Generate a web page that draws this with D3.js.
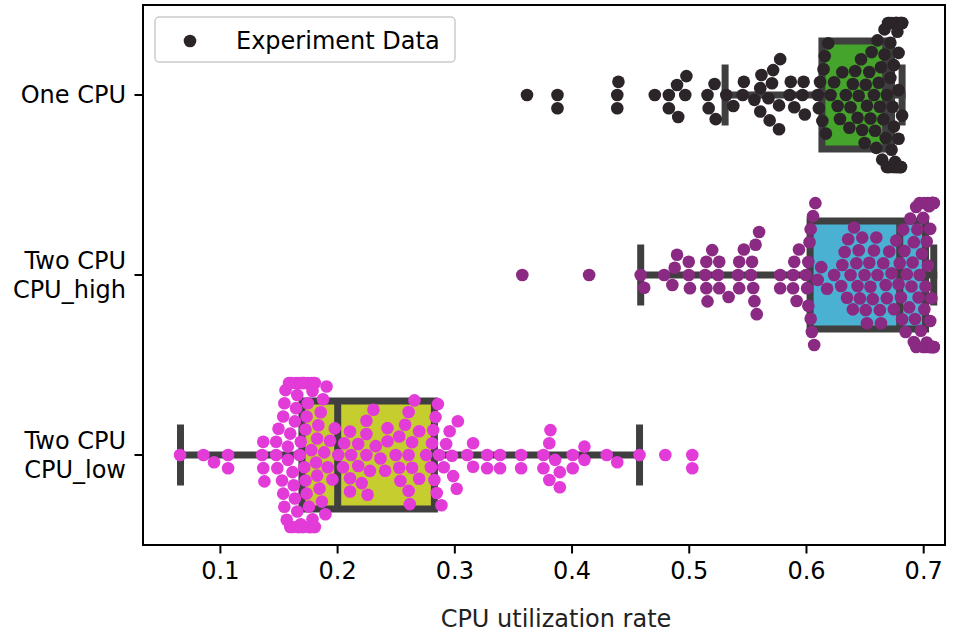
<!DOCTYPE html>
<html>
<head>
<meta charset="utf-8">
<script src="https://cdn.jsdelivr.net/npm/d3@7"></script>
<style>
  body { margin: 0; background: #fff; }
  text { font-family: "DejaVu Sans", sans-serif; }
</style>
</head>
<body>
<svg id="chart" width="960" height="637"></svg>
<script>
// categories, top to bottom
const categories = ['One CPU', 'Two CPU\nCPU_high', 'Two CPU\nCPU_low'];

// experiment data
const oneCpu = [
  0.362, 0.388, 0.388, 0.439, 0.439, 0.440, 0.471, 0.483, 0.483, 0.490,
  0.491, 0.497, 0.498, 0.516, 0.517, 0.522, 0.523, 0.532, 0.538, 0.546,
  0.547, 0.556, 0.561, 0.561, 0.562, 0.568, 0.569, 0.571, 0.572, 0.577,
  0.577, 0.578, 0.586, 0.587, 0.590, 0.597, 0.598, 0.599, 0.610, 0.611,
  0.612, 0.614, 0.615, 0.616, 0.617, 0.619, 0.621, 0.624, 0.627, 0.629,
  0.631, 0.634, 0.637, 0.638, 0.640, 0.642, 0.644, 0.645, 0.647, 0.648,
  0.650, 0.651, 0.652, 0.654, 0.655, 0.656, 0.658, 0.659, 0.660, 0.661,
  0.662, 0.663, 0.664, 0.665, 0.666, 0.667, 0.667, 0.668, 0.669, 0.669,
  0.670, 0.670, 0.671, 0.671, 0.672, 0.672, 0.673, 0.673, 0.674, 0.674,
  0.675, 0.675, 0.676, 0.676, 0.676, 0.677, 0.677, 0.677, 0.678, 0.678,
  0.678, 0.679, 0.679, 0.679, 0.680, 0.680, 0.680, 0.681, 0.681, 0.681,
  0.682, 0.682, 0.682
];

const twoCpuHigh = [
  0.358, 0.415, 0.459, 0.462, 0.479, 0.486, 0.488, 0.490, 0.500, 0.500,
  0.501, 0.514, 0.515, 0.515, 0.516, 0.520, 0.525, 0.526, 0.526, 0.534,
  0.542, 0.543, 0.543, 0.547, 0.553, 0.554, 0.555, 0.556, 0.557, 0.558,
  0.560, 0.578, 0.578, 0.589, 0.589, 0.590, 0.592, 0.594, 0.600, 0.601,
  0.602, 0.602, 0.603, 0.604, 0.604, 0.605, 0.606, 0.607, 0.608, 0.610,
  0.613, 0.618, 0.624, 0.630, 0.631, 0.633, 0.635, 0.636, 0.638, 0.640,
  0.641, 0.643, 0.644, 0.645, 0.646, 0.648, 0.650, 0.651, 0.652, 0.654,
  0.655, 0.657, 0.658, 0.660, 0.661, 0.663, 0.664, 0.666, 0.668, 0.669,
  0.671, 0.673, 0.675, 0.677, 0.679, 0.680, 0.681, 0.682, 0.683, 0.684,
  0.685, 0.686, 0.688, 0.689, 0.690, 0.691, 0.692, 0.692, 0.693, 0.694,
  0.694, 0.695, 0.696, 0.697, 0.697, 0.698, 0.699, 0.700, 0.700, 0.701,
  0.701, 0.702, 0.702, 0.703, 0.703, 0.704, 0.704, 0.705, 0.705, 0.706,
  0.706, 0.706, 0.707, 0.707, 0.707, 0.707, 0.708, 0.708, 0.708, 0.708,
  0.708, 0.709, 0.709, 0.709, 0.709, 0.709
];

const twoCpuLow = [
  0.066, 0.086, 0.095, 0.107, 0.107, 0.136, 0.137, 0.137, 0.138, 0.148,
  0.148, 0.149, 0.150, 0.153, 0.154, 0.154, 0.155, 0.155, 0.156, 0.157,
  0.158, 0.158, 0.159, 0.160, 0.160, 0.161, 0.162, 0.162, 0.163, 0.164,
  0.164, 0.165, 0.165, 0.166, 0.166, 0.167, 0.167, 0.168, 0.168, 0.169,
  0.169, 0.170, 0.170, 0.171, 0.171, 0.172, 0.172, 0.173, 0.173, 0.174,
  0.174, 0.175, 0.175, 0.176, 0.176, 0.177, 0.177, 0.178, 0.178, 0.179,
  0.179, 0.180, 0.180, 0.181, 0.181, 0.182, 0.183, 0.183, 0.184, 0.185,
  0.186, 0.187, 0.188, 0.189, 0.190, 0.191, 0.192, 0.194, 0.196, 0.198,
  0.201, 0.205, 0.206, 0.211, 0.211, 0.211, 0.212, 0.218, 0.218, 0.221,
  0.225, 0.225, 0.225, 0.226, 0.228, 0.231, 0.233, 0.237, 0.241, 0.243,
  0.243, 0.250, 0.253, 0.253, 0.254, 0.258, 0.261, 0.261, 0.261, 0.262,
  0.264, 0.264, 0.266, 0.270, 0.270, 0.276, 0.280, 0.281, 0.282, 0.283,
  0.284, 0.285, 0.286, 0.287, 0.289, 0.291, 0.293, 0.296, 0.298, 0.299,
  0.302, 0.303, 0.311, 0.316, 0.316, 0.328, 0.328, 0.339, 0.339, 0.357,
  0.357, 0.376, 0.376, 0.381, 0.381, 0.382, 0.386, 0.390, 0.390, 0.401,
  0.401, 0.411, 0.411, 0.430, 0.439, 0.458, 0.480, 0.503, 0.503
];

// box statistics per category (same order as categories)
const boxQ1 = [0.6136, 0.6035, 0.170];
const boxMedian = [0.668, 0.680, 0.2005];
const boxQ3 = [0.673, 0.702, 0.283];
const whiskerLo = [0.531, 0.459, 0.0664];
const whiskerHi = [0.682, 0.709, 0.458];

const xTicks = [0.1, 0.2, 0.3, 0.4, 0.5, 0.6, 0.7];
const legendLabel = 'Experiment Data';
const xLabel = 'CPU utilization rate';

const boxColors = ['#45a42c', '#4ab1d2', '#c6cd2f'];
const dotColors = ['#2b2428', '#8b2a82', '#e23bd8'];
const edgeColor = '#3f3f3f';

const series = [oneCpu, twoCpuHigh, twoCpuLow];

const plot = { left: 143, right: 945, top: 5, bottom: 545 };
const fontSize = 24;
const dotR = 6.3;
const lineW = 7;

const svg = d3.select('#chart');

const x = d3.scaleLinear()
  .domain([0.0344, 0.7186])
  .range([plot.left, plot.right]);

const y = d3.scaleBand()
  .domain(categories)
  .range([plot.top, plot.bottom]);

const bw = y.bandwidth();

// seaborn-like swarm: sorted by value, smallest offset that doesn't overlap,
// then clamp to the gutter
function swarm(values, cx, cy) {
  const d = dotR * 2;
  const pts = values.map((v) => ({ v, x: x(v) })).sort((a, b) => a.x - b.x);
  const placed = [];
  pts.forEach((p) => {
    const nb = placed.filter((q) => Math.abs(q.x - p.x) < d);
    let cand = [0];
    let downFirst = true;
    nb.forEach((q) => {
      const dy = Math.sqrt(Math.max(d * d - (q.x - p.x) ** 2, 0)) * 1.05;
      cand = cand.concat(downFirst ? [q.y + dy, q.y - dy] : [q.y - dy, q.y + dy]);
      downFirst = !downFirst;
    });
    cand.sort((a, b) => Math.abs(a) - Math.abs(b));
    p.y = cand[cand.length - 1];
    for (const c of cand) {
      if (nb.every((q) => (q.x - p.x) ** 2 + (q.y - c) ** 2 >= d * d * 0.999)) {
        p.y = c;
        break;
      }
    }
    placed.push(p);
  });
  const gutter = cx * 0.8 / 2;
  return placed.map((p) => ({
    x: p.x,
    y: cy + Math.max(-gutter, Math.min(gutter, p.y)),
  }));
}

// boxes
const boxes = svg.append('g').attr('class', 'boxes');
categories.forEach((cat, i) => {
  const cy = y(cat) + bw / 2;
  const h = bw * 0.6;
  const g = boxes.append('g');
  // whiskers
  g.append('line')
    .attr('x1', x(whiskerLo[i])).attr('x2', x(boxQ1[i]))
    .attr('y1', cy).attr('y2', cy);
  g.append('line')
    .attr('x1', x(boxQ3[i])).attr('x2', x(whiskerHi[i]))
    .attr('y1', cy).attr('y2', cy);
  // caps
  [whiskerLo[i], whiskerHi[i]].forEach((v) => {
    g.append('line')
      .attr('x1', x(v)).attr('x2', x(v))
      .attr('y1', cy - h / 4).attr('y2', cy + h / 4);
  });
  g.selectAll('line')
    .attr('stroke', edgeColor)
    .attr('stroke-width', lineW)
    .attr('stroke-linecap', 'square');
  g.append('rect')
    .attr('x', x(boxQ1[i]))
    .attr('y', cy - h / 2)
    .attr('width', x(boxQ3[i]) - x(boxQ1[i]))
    .attr('height', h)
    .attr('fill', boxColors[i])
    .attr('stroke', edgeColor)
    .attr('stroke-width', lineW);
  g.append('line')
    .attr('x1', x(boxMedian[i])).attr('x2', x(boxMedian[i]))
    .attr('y1', cy - h / 2).attr('y2', cy + h / 2)
    .attr('stroke', edgeColor)
    .attr('stroke-width', lineW);
});

// swarm points
const dots = svg.append('g').attr('class', 'dots');
categories.forEach((cat, i) => {
  const cy = y(cat) + bw / 2;
  dots.append('g')
    .selectAll('circle')
    .data(swarm(series[i], bw, cy))
    .join('circle')
    .attr('cx', (d) => d.x)
    .attr('cy', (d) => d.y)
    .attr('r', dotR)
    .attr('fill', dotColors[i]);
});

// frame
svg.append('rect')
  .attr('x', plot.left).attr('y', plot.top)
  .attr('width', plot.right - plot.left)
  .attr('height', plot.bottom - plot.top)
  .attr('fill', 'none')
  .attr('stroke', '#000')
  .attr('stroke-width', 2);

// x axis
const xAxis = svg.append('g')
  .attr('transform', `translate(0,${plot.bottom})`)
  .call(d3.axisBottom(x).tickValues(xTicks).tickFormat(d3.format('.1f'))
    .tickSize(8.5).tickPadding(8.5).tickSizeOuter(0));
xAxis.select('.domain').remove();
xAxis.selectAll('line').attr('stroke', '#000').attr('stroke-width', 2);
xAxis.selectAll('text').attr('font-size', fontSize).attr('fill', '#000')
  .style('font-family', '"DejaVu Sans", sans-serif');

// y axis
const yAxis = svg.append('g')
  .attr('transform', `translate(${plot.left},0)`)
  .call(d3.axisLeft(y).tickSize(8.5).tickPadding(8.5).tickSizeOuter(0));
yAxis.select('.domain').remove();
yAxis.selectAll('line').attr('stroke', '#000').attr('stroke-width', 2);
yAxis.selectAll('text')
  .attr('font-size', fontSize).attr('fill', '#000')
  .style('font-family', '"DejaVu Sans", sans-serif')
  .attr('dy', null)
  .each(function (d) {
    const lines = d.split('\n');
    const t = d3.select(this).text(null);
    lines.forEach((ln, k) => {
      t.append('tspan')
        .attr('x', -17)
        .attr('dy', k === 0 ? `${0.35 - (lines.length - 1) * 0.6}em` : '1.2em')
        .text(ln);
    });
  });

// x label
svg.append('text')
  .attr('x', 556)
  .attr('y', 627)
  .attr('text-anchor', 'middle')
  .attr('font-size', fontSize)
  .attr('fill', '#222')
  .text(xLabel);

// legend
const lg = svg.append('g');
lg.append('rect')
  .attr('x', 155).attr('y', 17)
  .attr('width', 300).attr('height', 45)
  .attr('rx', 4)
  .attr('fill', 'rgba(255,255,255,0.8)')
  .attr('stroke', '#cccccc')
  .attr('stroke-width', 1.5);
lg.append('circle')
  .attr('cx', 190).attr('cy', 41)
  .attr('r', dotR)
  .attr('fill', dotColors[0]);
lg.append('text')
  .attr('x', 236).attr('y', 41)
  .attr('dy', '0.35em')
  .attr('font-size', fontSize)
  .attr('fill', '#000')
  .text(legendLabel);
</script>
</body>
</html>
